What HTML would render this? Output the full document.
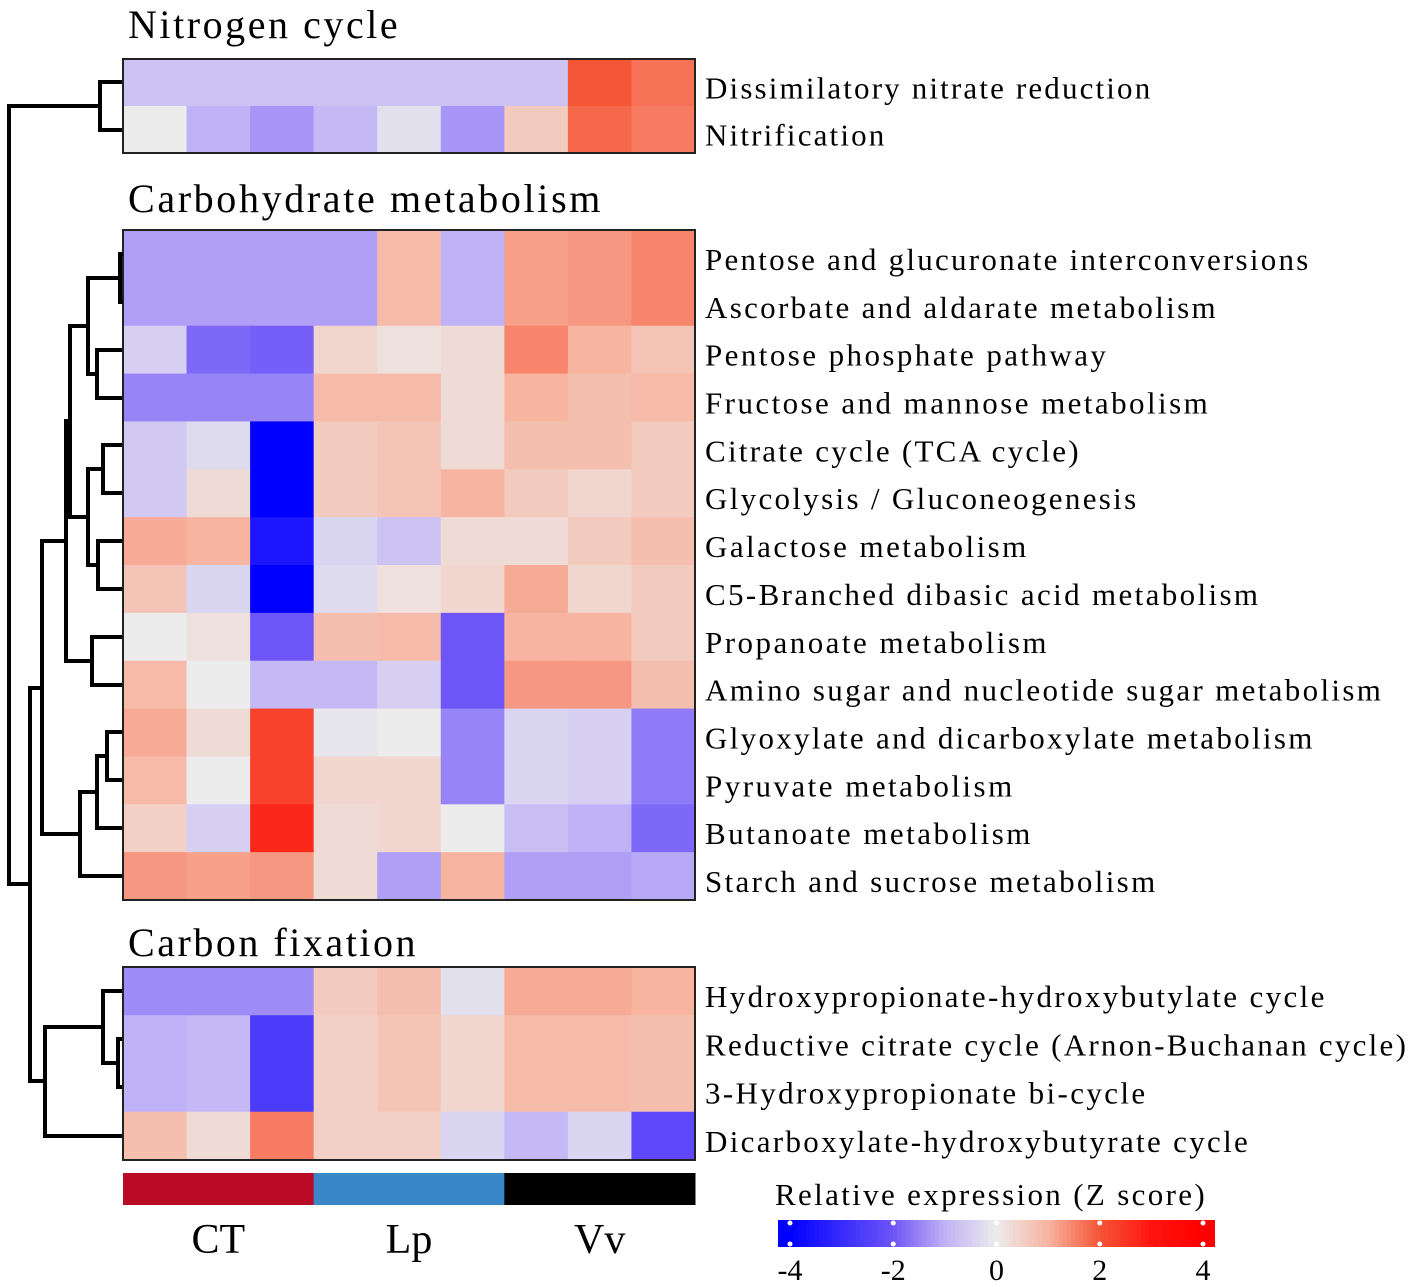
<!DOCTYPE html>
<html><head><meta charset="utf-8"><style>
body{margin:0;background:#fff}
svg{display:block;font-family:"Liberation Serif",serif}
</style></head><body>
<svg id="c" width="1417" height="1287" viewBox="0 0 1417 1287" xmlns="http://www.w3.org/2000/svg"></svg>
<script>
const groups = ["CT","Lp","Vv"];
const nitrogenRows = ["Dissimilatory nitrate reduction","Nitrification"];
const nitrogenValues = [
[-0.7,-0.7,-0.7,-0.7,-0.7,-0.7,-0.7,2.0,1.7],
[0,-1.0,-1.3,-0.9,-0.2,-1.3,0.6,1.8,1.6]];
const carboRows = ["Pentose and glucuronate interconversions","Ascorbate and aldarate metabolism","Pentose phosphate pathway","Fructose and mannose metabolism","Citrate cycle (TCA cycle)","Glycolysis / Gluconeogenesis","Galactose metabolism","C5-Branched dibasic acid metabolism","Propanoate metabolism","Amino sugar and nucleotide sugar metabolism","Glyoxylate and dicarboxylate metabolism","Pyruvate metabolism","Butanoate metabolism","Starch and sucrose metabolism"];
const carboValues = [
[-1.2,-1.2,-1.2,-1.2,0.9,-1.0,1.2,1.3,1.5],
[-1.2,-1.2,-1.2,-1.2,0.9,-1.0,1.2,1.3,1.5],
[-0.5,-1.8,-1.9,0.4,0.2,0.3,1.5,1.0,0.7],
[-1.5,-1.5,-1.5,0.9,0.9,0.3,1.0,0.8,0.9],
[-0.6,-0.3,-4,0.6,0.7,0.3,0.8,0.8,0.6],
[-0.6,0.3,-4,0.6,0.7,1.0,0.6,0.4,0.6],
[1.1,1.0,-3.5,-0.4,-0.7,0.3,0.3,0.6,0.8],
[0.7,-0.4,-4,-0.3,0.2,0.4,1.1,0.4,0.6],
[0,0.2,-2.0,0.8,0.9,-2.0,1.0,1.0,0.6],
[0.9,0,-0.9,-0.9,-0.5,-2.0,1.3,1.3,0.8],
[1.1,0.3,2.3,-0.1,0,-1.5,-0.4,-0.5,-1.6],
[0.9,0,2.3,0.4,0.4,-1.5,-0.4,-0.5,-1.6],
[0.5,-0.5,2.7,0.3,0.4,0,-0.8,-1.0,-1.8],
[1.3,1.2,1.3,0.3,-1.2,1.0,-1.2,-1.2,-1.1]];
const fixRows = ["Hydroxypropionate-hydroxybutylate cycle","Reductive citrate cycle (Arnon-Buchanan cycle)","3-Hydroxypropionate bi-cycle","Dicarboxylate-hydroxybutyrate cycle"];
const fixValues = [
[-1.4,-1.4,-1.4,0.6,0.8,-0.2,1.1,1.1,1.0],
[-1.0,-0.9,-2.6,0.5,0.7,0.4,0.9,0.9,0.8],
[-1.0,-0.9,-2.6,0.5,0.7,0.4,0.9,0.9,0.8],
[0.8,0.3,1.6,0.5,0.5,-0.4,-0.9,-0.4,-2.3]];
const legendTicks = [-4,-2,0,2,4];

const svg=document.getElementById('c');
const NS="http://www.w3.org/2000/svg";
function mk(t,a,p){const e=document.createElementNS(NS,t);for(const k in a)e.setAttribute(k,a[k]);(p||svg).appendChild(e);return e;}
function stretch(t,f){const w=t.getComputedTextLength();t.setAttribute('textLength',(w*f).toFixed(1));t.setAttribute('lengthAdjust','spacing');}
const stops=[[-4,[0,0,255]],[-2,[110,85,248]],[-1,[192,178,246]],[0,[236,236,236]],[1,[247,180,160]],[2,[245,85,55]],[3,[255,20,15]],[4,[255,0,0]]];
function col(v){v=Math.max(-4,Math.min(4,v));for(let i=0;i<stops.length-1;i++){const[a,ca]=stops[i],[b,cb]=stops[i+1];if(v<=b){const t=(v-a)/(b-a);return 'rgb('+ca.map((c,j)=>Math.round(c+(cb[j]-c)*t)).join(',')+')';}}return 'rgb(255,0,0)';}
const X0=123,X1=695,cw=(X1-X0)/9;
function xs(j){return X0+j*cw;}
function block(name,title,titleY,rows,vals,y0,y1){
  const g=mk('g',{});
  
  
  const rh=(y1-y0)/rows.length;
  const t=mk('text',{x:128,y:titleY,'font-size':40,fill:'#000'},g);t.textContent=title;
  
  
  stretch(t,1.14);
  vals.forEach((r,i)=>r.forEach((v,j)=>{
    const c=mk('rect',{x:xs(j),y:y0+i*rh,width:cw+0.6,height:rh+0.6,fill:col(v)},g);
    
    
  }));
  mk('rect',{x:X0,y:y0,width:X1-X0,height:y1-y0,fill:'none',stroke:'#222','stroke-width':2},g);
  rows.forEach((lab,i)=>{
    const l=mk('text',{x:705,y:y0+(i+0.5)*rh+16,'font-size':31,fill:'#000'},g);l.textContent=lab;
    
    
    stretch(l,1.17);
  });
}
block('nitrogen','Nitrogen cycle',38,nitrogenRows,nitrogenValues,59,153);
block('carbohydrate','Carbohydrate metabolism',212,carboRows,carboValues,230,900);
block('carbon-fixation','Carbon fixation',956,fixRows,fixValues,967,1160);

const dg=mk('g',{stroke:'#000','stroke-width':4,fill:'none'});


function br(x,ya,yb,xa,xb){mk('path',{d:`M${xa},${ya}H${x}V${yb}H${xb}`},dg);}
br(100,82,130,122,122);
br(120,254,302,123,123);
br(97,350,398,122,122);
br(88,278,374,120,97);
br(103,445,493,122,122);
br(98,541,589,122,122);
br(88,469,565,103,98);
br(70,326,517,88,88);
br(92,637,685,122,122);
br(66,421,661,70,92);
br(107,732,780,122,122);
br(97,756,828,107,122);
br(80,792,876,97,122);
br(42,541,834,66,80);
br(118,1039,1087,122,122);
br(103,991,1063,122,118);
br(45,1027,1136,103,122);
br(30,688,1081,42,45);
br(9,106,884,100,30);

const annColors=['#bb0a25','#3a87c8','#000000'];
groups.forEach((gname,i)=>{
  const r=mk('rect',{x:X0+i*3*cw,y:1173,width:3*cw+0.5,height:32,fill:annColors[i]});
  
  
  const t=mk('text',{x:X0+(i*3+1.5)*cw,y:1253,'font-size':42,'text-anchor':'middle'});t.textContent=gname;
  
  
});

const lg=mk('g',{});


const lt=mk('text',{x:775,y:1205,'font-size':31},lg);lt.textContent='Relative expression (Z score)';


stretch(lt,1.18);
const LX0=778,LX1=1215,lx=v=>LX0+12+(v+4)/8*(LX1-LX0-24);
for(let k=0;k<100;k++){
  const v0=-4+k*0.08;
  mk('rect',{x:Math.max(LX0,lx(v0)),y:1220,width:(LX1-LX0)/100+1.5,height:27,fill:col(v0+0.04)},lg);
}
mk('rect',{x:LX0,y:1220,width:14,height:27,fill:col(-4)},lg);
mk('rect',{x:LX1-14,y:1220,width:14,height:27,fill:col(4)},lg);
legendTicks.forEach(v=>{
  mk('circle',{cx:lx(v),cy:1223,r:2.5,fill:'#fff'},lg);
  mk('circle',{cx:lx(v),cy:1244,r:2.5,fill:'#fff'},lg);
  const t=mk('text',{x:lx(v),y:1280,'font-size':30,'text-anchor':'middle'},lg);t.textContent=v;
  
  
});
</script>
</body></html>
